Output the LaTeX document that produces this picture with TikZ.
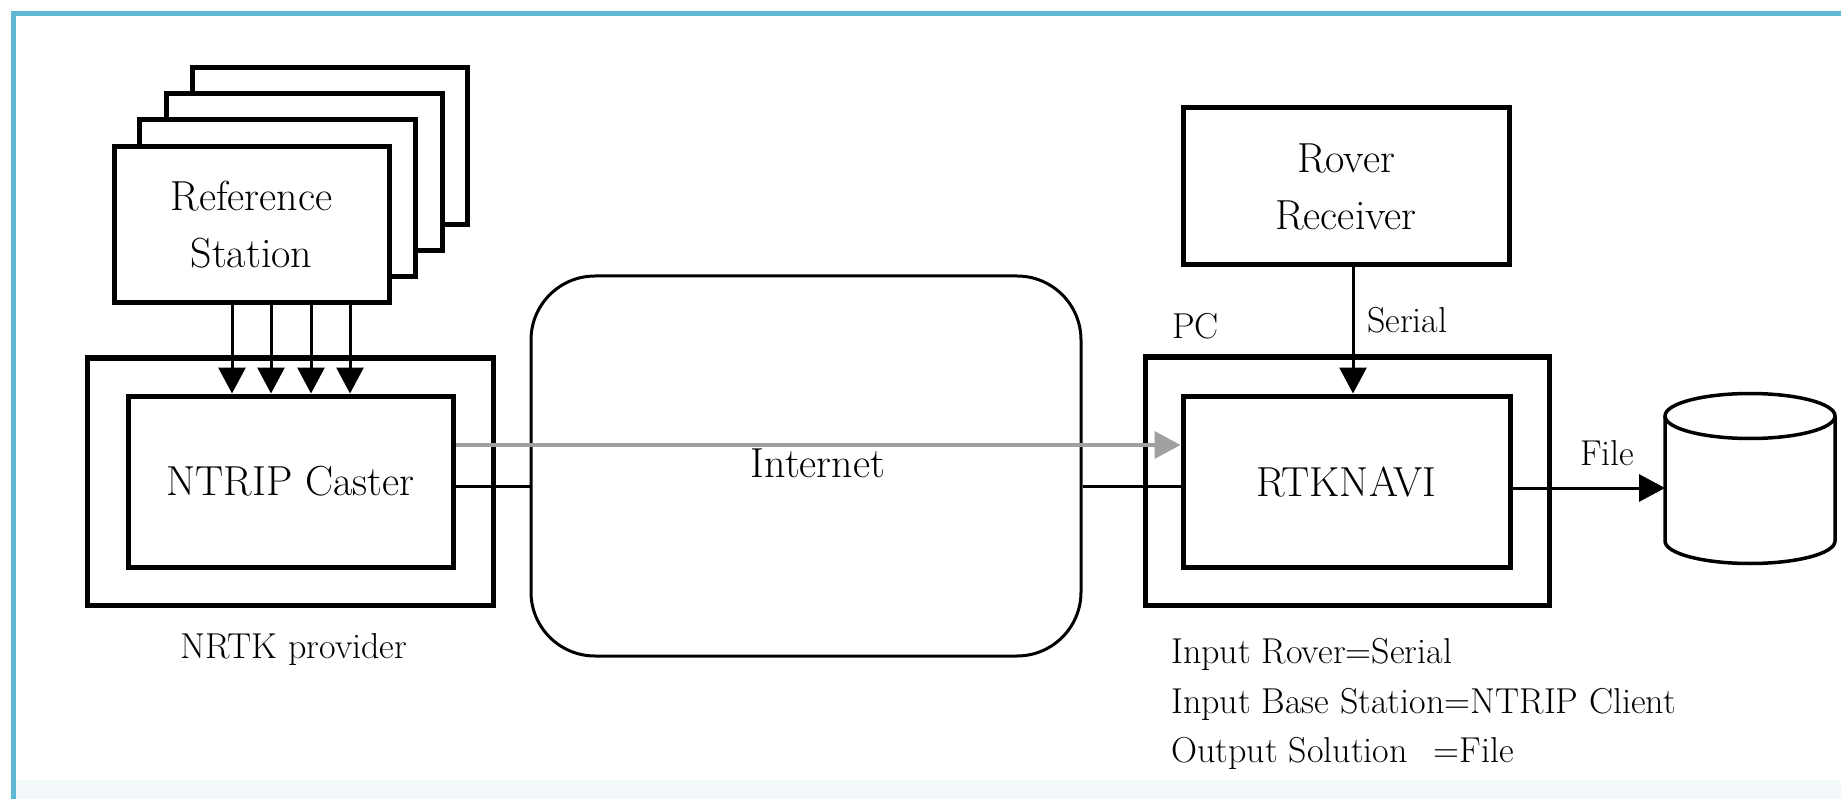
\documentclass[tikz,border=0pt]{standalone}
\usepackage{fontspec}
\usetikzlibrary{arrows.meta}
\definecolor{frameblue}{RGB}{92,184,212}
\definecolor{arrgray}{RGB}{160,160,160}
\definecolor{faintband}{RGB}{243,249,250}
\begin{document}
\begin{tikzpicture}[x=1pt,y=-1pt,
  box/.style={draw=black, line width=5pt, fill=white, rectangle, inner sep=0pt,
    font=\fontsize{42}{57}\selectfont, align=center},
  lbl/.style={inner sep=0pt, font=\fontsize{36}{50}\selectfont},
  arr/.style={line width=3pt, -{Triangle[length=26pt,width=27pt]}},
  grayarr/.style={draw=arrgray, line width=3.5pt, -{Triangle[length=26pt,width=27pt,fill=arrgray]}},
  link/.style={line width=3pt},
  cyl/.style={line width=3.5pt}
]
\useasboundingbox (0,0) rectangle (1841,799);
\fill[white] (0,0) rectangle (1841,799);
\fill[faintband] (16,780) rectangle (1841,799);
\draw[frameblue, line width=4.5pt] (13.5,799) -- (13.5,13.5) -- (1841,13.5);

% reference station stack
\node[box, minimum width=275pt, minimum height=157pt] (ref4) at (329.5,146.5) {};
\node[box, minimum width=276pt, minimum height=157pt] (ref3) at (304,172) {};
\node[box, minimum width=276pt, minimum height=157pt] (ref2) at (277,198.5) {};
\node[box, minimum width=275pt, minimum height=156pt] (ref1) at (251.5,225) {Reference\\Station};

% NRTK provider
\node[box, minimum width=406pt, minimum height=247pt] (prov) at (290,481.5) {};
\node[box, minimum width=325pt, minimum height=171pt] (ntrip) at (290.5,481.5) {NTRIP Caster};
\node[lbl, anchor=base] (provlbl) at (294,658) {NRTK provider};

\coordinate (a1) at (232,0);
\coordinate (a2) at (271,0);
\coordinate (a3) at (311,0);
\coordinate (a4) at (350,0);
\foreach \a in {a1,a2,a3,a4}
  \draw[arr] (ref1.south -| \a) -- (ntrip.north -| \a);

% internet
\node[draw=black, line width=3pt, rectangle, rounded corners=64pt, inner sep=0pt,
  minimum width=550pt, minimum height=380pt] (internet) at (806,466) {};
\node[anchor=base, inner sep=0pt, font=\fontsize{42}{57}\selectfont] (inettxt) at (818,477) {Internet};

% PC
\node[box, minimum width=404pt, minimum height=248pt] (pc) at (1347,481) {};
\node[box, minimum width=327pt, minimum height=171pt] (rtk) at (1346.5,481.5) {RTKNAVI};
\node[lbl, anchor=base west] (pclbl) at (1172,338) {PC};

% rover
\node[box, minimum width=326pt, minimum height=157pt] (rover) at (1346,186.5) {Rover\\Receiver};
\coordinate (sx) at (1353,0);
\draw[arr] (rover.south -| sx) -- (rtk.north -| sx);
\node[lbl, anchor=base west] (serlbl) at (1367,333) {Serial};

% links
\coordinate (bl) at (0,486);
\draw[link] (ntrip.east |- bl) -- (internet.west |- bl);
\draw[link] (internet.east |- bl) -- (rtk.west |- bl);
\coordinate (gy) at (0,445);
\draw[grayarr] (ntrip.east |- gy) -- (rtk.west |- gy);

% database cylinder
\draw[cyl, fill=white] (1665,416) -- (1665,541) arc[start angle=180, end angle=0, x radius=85, y radius=22.5] -- (1835,416);
\draw[cyl] (1750,416) ellipse [x radius=85, y radius=22.5];
\coordinate (db) at (1665,488);
\draw[arr] (rtk.east |- db) -- (db);
\node[lbl, anchor=base west] (filelbl) at (1580,465) {File};

% settings text
\node[lbl, anchor=base west] (in1) at (1171,663) {Input Rover=Serial};
\node[lbl, anchor=base west] (in2) at (1171,713) {Input Base Station=NTRIP Client};
\node[lbl, anchor=base west] (in3) at (1171,762) {Output Solution\hspace{26pt}=File};
\end{tikzpicture}
\end{document}
